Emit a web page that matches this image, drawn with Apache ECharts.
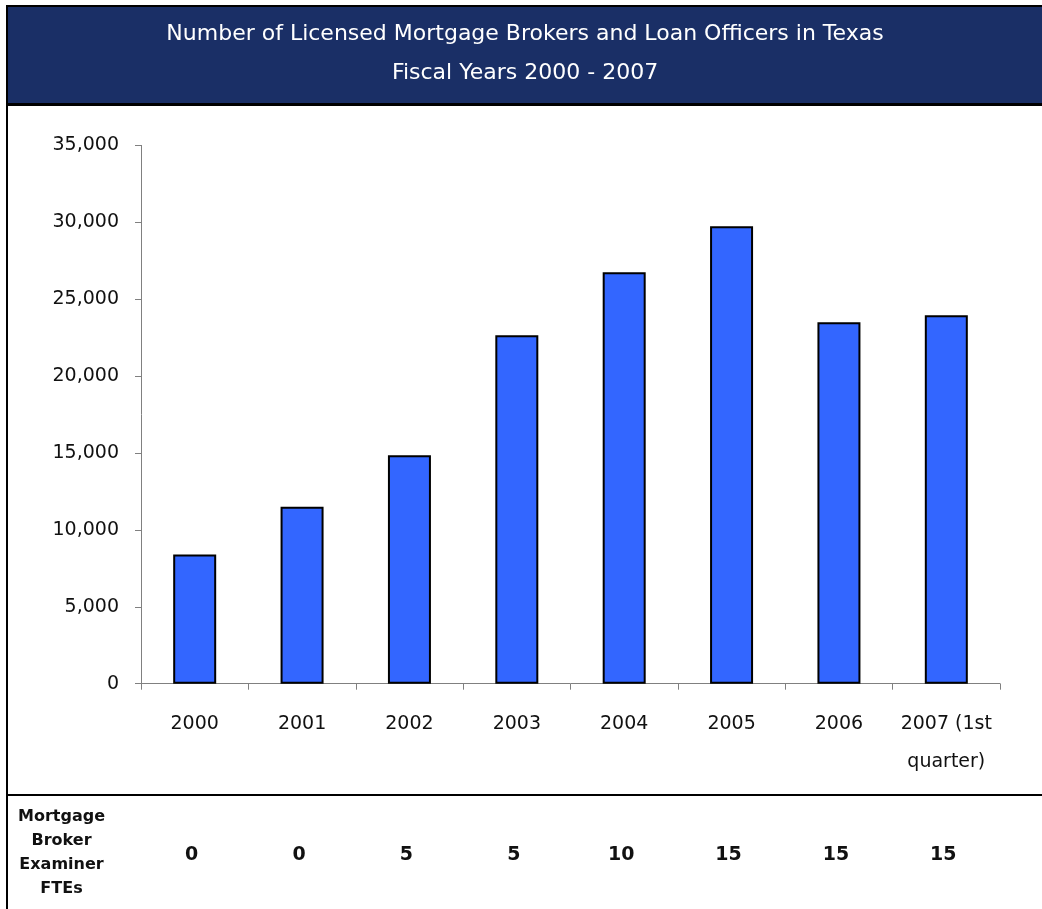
<!DOCTYPE html>
<html>
<head>
<meta charset="utf-8">
<script src="https://cdn.jsdelivr.net/npm/echarts@6/dist/echarts.min.js"></script>
<style>
html,body{margin:0;padding:0;background:#fff;}
#chart{width:1042px;height:909px;}
</style>
</head>
<body>
<div id="chart"></div>
<script>
var titleLines = ['Number of Licensed Mortgage Brokers and Loan Officers in Texas', 'Fiscal Years 2000 - 2007'];
var categories = ['2000', '2001', '2002', '2003', '2004', '2005', '2006', '2007 (1st\nquarter)'];
var licensees = [8400, 11500, 14850, 22650, 26750, 29750, 23500, 23950];
var fteValues = ['0', '0', '5', '5', '10', '15', '15', '15'];
var fteLabel = 'Mortgage\nBroker\nExaminer\nFTEs';
var yTicks = { min: 0, max: 35000, interval: 5000 };

var FONT = '"DejaVu Sans", Verdana, sans-serif';
var chart = echarts.init(document.getElementById('chart'), null, { renderer: 'canvas' });

chart.setOption({
  animation: false,
  backgroundColor: '#ffffff',
  title: {
    text: titleLines.join('\n'),
    left: 525,
    top: 15,
    textAlign: 'center',
    padding: 0,
    textStyle: { color: '#ffffff', fontFamily: FONT, fontSize: 22, fontWeight: 'normal', lineHeight: 39 }
  },
  graphic: [
    { type: 'rect', z: -10, shape: { x: 6, y: 5, width: 1040, height: 101 }, style: { fill: '#1a2f66' } },
    { type: 'rect', z: -9, shape: { x: 6, y: 5, width: 1040, height: 2 }, style: { fill: '#000' } },
    { type: 'rect', z: -9, shape: { x: 6, y: 103, width: 1040, height: 3 }, style: { fill: '#000' } },
    { type: 'rect', z: -9, shape: { x: 6, y: 5, width: 2, height: 910 }, style: { fill: '#000' } },
    { type: 'rect', z: -9, shape: { x: 6, y: 794, width: 1040, height: 2 }, style: { fill: '#000' } },
    { type: 'text', left: 18, top: 805, style: { text: fteLabel, fontFamily: FONT, fontSize: 16, fontWeight: 'bold', fill: '#111', align: 'center', lineHeight: 24, textAlign: 'center' } }
  ],
  grid: [
    { left: 141, right: 42, top: 145.4, bottom: 225.3, containLabel: false },
    { left: 141, right: 42, top: 800, bottom: 64, containLabel: false }
  ],
  xAxis: [
    {
      type: 'category', gridIndex: 0, data: categories,
      axisLine: { lineStyle: { color: '#808080', width: 1 } },
      axisTick: { show: true, length: 6, lineStyle: { color: '#808080' } },
      axisLabel: { color: '#111', fontFamily: FONT, fontSize: 19, margin: 21, lineHeight: 38, verticalAlign: 'top', interval: 0 }
    },
    {
      type: 'category', gridIndex: 1, data: fteValues,
      axisLine: { show: false }, axisTick: { show: false },
      axisLabel: { color: '#111', fontFamily: FONT, fontSize: 19, fontWeight: 'bold', margin: 10, verticalAlign: 'middle', interval: 0, padding: [0, 6, 0, 0] }
    }
  ],
  yAxis: [
    {
      type: 'value', gridIndex: 0, min: yTicks.min, max: yTicks.max, interval: yTicks.interval,
      axisLine: { show: true, lineStyle: { color: '#808080', width: 1 } },
      axisTick: { show: true, length: 6, lineStyle: { color: '#808080' } },
      splitLine: { show: false },
      axisLabel: {
        color: '#111', fontFamily: FONT, fontSize: 19, margin: 22,
        formatter: function (v) { return v.toLocaleString('en-US'); }
      }
    },
    { type: 'value', gridIndex: 1, show: false, min: 0, max: 1 }
  ],
  series: [
    {
      type: 'bar', xAxisIndex: 0, yAxisIndex: 0, data: licensees, barWidth: 43,
      itemStyle: { color: '#3366ff', borderColor: '#000', borderWidth: 2 }
    }
  ]
});
</script>
</body>
</html>
